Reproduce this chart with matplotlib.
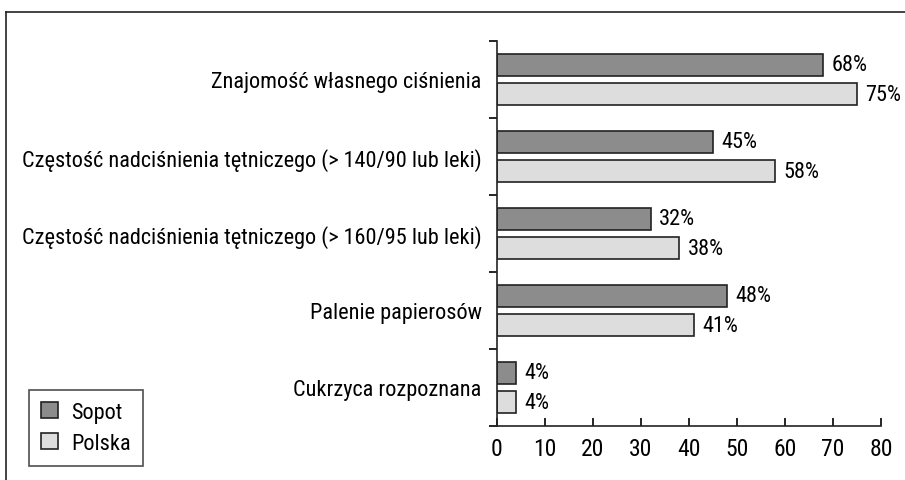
import numpy as np
import matplotlib.pyplot as plt
from matplotlib.lines import Line2D

categories = ["Znajomość własnego ciśnienia",
              "Częstość nadciśnienia tętniczego (> 140/90 lub leki)",
              "Częstość nadciśnienia tętniczego (> 160/95 lub leki)",
              "Palenie papierosów",
              "Cukrzyca rozpoznana"]
sopot = [68, 45, 32, 48, 4]
polska = [75, 58, 38, 41, 4]
series_names = ["Sopot", "Polska"]
xticks = [0, 10, 20, 30, 40, 50, 60, 70, 80]

plt.rcParams['font.family'] = ['Roboto Condensed', 'PT Sans Narrow', 'DejaVu Sans']
plt.rcParams['font.size'] = 16

fig = plt.figure(figsize=(9.05, 4.81), dpi=100)
ax = fig.add_axes([0.549, 0.1123, 0.4245, 0.8004])

y = np.arange(len(categories))
h = 0.29
off = 0.19
edge = "#222222"
ax.barh(y - off, sopot, height=h, color="#8c8c8c", edgecolor=edge, linewidth=1.2, label=series_names[0])
ax.barh(y + off, polska, height=h, color="#dddddd", edgecolor=edge, linewidth=1.2, label=series_names[1])

for yi, v in zip(y, sopot):
    ax.text(v + 1.7, yi - off, f"{v}%", va="center", ha="left", fontsize=16)
for yi, v in zip(y, polska):
    ax.text(v + 1.7, yi + off, f"{v}%", va="center", ha="left", fontsize=16)

ax.set_xlim(0, 80)
ax.set_ylim(len(categories) - 0.5, -0.5)
ax.set_xticks(xticks)
ax.tick_params(axis="x", direction="in", length=6, width=1.2, pad=8, labelsize=17)
ax.set_yticks(y)
ax.set_yticklabels(categories)
ax.tick_params(axis="y", which="major", length=0, pad=11, labelsize=16)
ax.set_yticks(np.arange(-0.5, len(categories)), minor=True)
ax.tick_params(axis="y", which="minor", direction="out", length=6, width=1.2)

for s in ["top", "right"]:
    ax.spines[s].set_visible(False)
for s in ["left", "bottom"]:
    ax.spines[s].set_linewidth(1.2)
    ax.spines[s].set_color(edge)

leg = fig.legend(loc="lower left", bbox_to_anchor=(29 / 905, 1 - 467 / 481), borderaxespad=0,
                 frameon=True, fancybox=False, edgecolor=edge, fontsize=16, handlelength=0.75,
                 handleheight=0.75, handletextpad=0.6, borderpad=0.55, labelspacing=0.45)
leg.get_frame().set_linewidth(1.2)

# outer frame lines (top and left)
fig.add_artist(Line2D([6 / 905, 1], [1 - 13 / 481, 1 - 13 / 481], transform=fig.transFigure, color=edge, lw=1.2))
fig.add_artist(Line2D([6 / 905, 6 / 905], [0, 1 - 13 / 481], transform=fig.transFigure, color=edge, lw=1.2))

fig.savefig("out.png", dpi=100)
